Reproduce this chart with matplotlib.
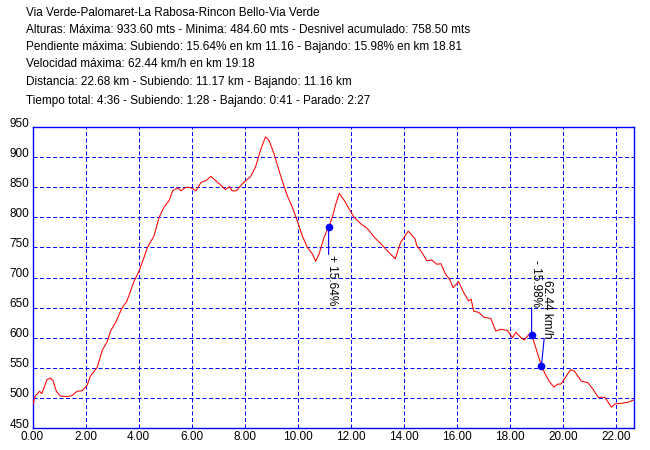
import matplotlib
matplotlib.use("Agg")
import matplotlib.pyplot as plt
import matplotlib.transforms as mtransforms
import numpy as np

plt.rcParams['font.family'] = ['Liberation Sans', 'DejaVu Sans']

# ---------------- data ----------------
header_lines = [
    "Via Verde-Palomaret-La Rabosa-Rincon Bello-Via Verde",
    "Alturas: Máxima: 933.60 mts - Minima: 484.60 mts - Desnivel acumulado: 758.50 mts",
    "Pendiente máxima: Subiendo: 15.64% en km 11.16 - Bajando: 15.98% en km 18.81",
    "Velocidad máxima: 62.44 km/h en km 19.18",
    "Distancia: 22.68 km - Subiendo: 11.17 km - Bajando: 11.16 km",
    "Tiempo total: 4:36 - Subiendo: 1:28 - Bajando: 0:41 - Parado: 2:27",
]

km = [0.00, 0.10, 0.27, 0.35, 0.54, 0.67, 0.77, 0.90, 1.05, 1.30, 1.49, 1.68,
      1.87, 2.06, 2.18, 2.44, 2.63, 2.82, 2.94, 3.13, 3.38, 3.55, 3.83, 4.02,
      4.20, 4.33, 4.58, 4.77, 4.96, 5.15, 5.28, 5.47, 5.60, 5.78, 5.97, 6.16,
      6.35, 6.54, 6.72, 6.90, 7.08, 7.27, 7.43, 7.52, 7.68, 7.96, 8.21, 8.40,
      8.59, 8.78, 8.91, 9.10, 9.35, 9.60, 9.79, 9.98, 10.17, 10.36, 10.55,
      10.67, 10.80, 10.99, 11.18, 11.30, 11.43, 11.56, 11.75, 11.93, 12.12,
      12.38, 12.63, 12.88, 13.13, 13.38, 13.67, 13.87, 14.16, 14.42, 14.48,
      14.67, 14.86, 15.05, 15.24, 15.39, 15.56, 15.72, 15.85, 16.06, 16.25,
      16.44, 16.53, 16.63, 16.82, 17.01, 17.27, 17.46, 17.65, 17.90, 18.09,
      18.22, 18.41, 18.53, 18.72, 18.82, 18.97, 19.08, 19.20, 19.33, 19.48,
      19.65, 19.80, 19.92, 20.11, 20.28, 20.43, 20.68, 20.94, 21.13, 21.32,
      21.57, 21.82, 21.95, 22.20, 22.46, 22.68]
alt = [487, 503, 511, 507, 530, 533, 529, 511, 503, 502, 504, 511,
       512, 521, 536, 551, 579, 594, 611, 625, 650, 660, 694, 711,
       733, 750, 769, 800, 817, 828, 844, 849, 844, 850, 849, 844,
       858, 861, 868, 861, 854, 846, 851, 844, 844, 858, 867, 883,
       911, 933.6, 928, 906, 869, 836, 817, 794, 769, 750, 739,
       727, 739, 767, 786, 800, 822, 840, 828, 814, 800,
       789, 781, 767, 756, 744, 731, 758, 777, 764, 753,
       742, 728, 729, 722, 723, 706, 697, 683, 693, 675,
       661, 664, 644, 642, 634, 632, 611, 614, 612, 600,
       609, 600, 596, 606, 604, 583, 567, 551, 539, 527,
       518, 523, 523, 536, 547, 544, 528, 525, 514, 501,
       501, 484.6, 490, 491, 493, 497]

x_ticks = [0, 2, 4, 6, 8, 10, 12, 14, 16, 18, 20, 22]
y_ticks = [450, 500, 550, 600, 650, 700, 750, 800, 850, 900, 950]

# annotations: (km, label)
ann_km = [11.16, 18.81, 19.18]
ann_labels = ["+ 15.64%", "- 15.98%", "62.44 km/h"]

# ---------------- figure ----------------
W, H = 650, 450
fig = plt.figure(figsize=(6.5, 4.5), dpi=100)
fig.patch.set_facecolor('white')

baselines = [16, 32.7, 50, 66.7, 85.3, 103.7]
for txt, yb in zip(header_lines, baselines):
    fig.text(26 / W, 1 - yb / H, txt, fontsize=8.5, va='baseline', ha='left',
             color='black')

ax = fig.add_axes([32.5 / W, 1 - 428 / H, (634.3 - 32.5) / W, (428 - 127) / H])
ax.set_xlim(0, 22.68)
ax.set_ylim(450, 950)

blue = (0, 0, 1)
for s in ax.spines.values():
    s.set_color(blue)
    s.set_linewidth(1.0)

ax.set_xticks(x_ticks)
ax.set_xticklabels([f"{v:.2f}" for v in x_ticks])
ax.set_yticks(y_ticks)
ax.set_yticklabels([str(v) for v in y_ticks])
ax.tick_params(axis='both', length=0, labelsize=8.5, colors='black')
ax.tick_params(axis='x', pad=2)
ax.tick_params(axis='y', pad=2)

# shift y labels up slightly like the reference
off = mtransforms.ScaledTranslation(0, 5 / 100, fig.dpi_scale_trans)
for lab in ax.get_yticklabels():
    lab.set_transform(lab.get_transform() + off)

for v in x_ticks[1:]:
    ax.axvline(v, color=blue, lw=0.72, ls=(0, (4, 2.5)), zorder=1)
for v in y_ticks[1:-1]:
    ax.axhline(v, color=blue, lw=0.72, ls=(0, (4, 2.5)), zorder=1)

ax.plot(km, alt, color='red', lw=0.75, zorder=3)

px = 0.72  # points per pixel at 100 dpi
ann_alt = [float(np.interp(k, km, alt)) for k in ann_km]
# (line end dx, dy) in px, text anchor (dx, dy) px, va
specs = [((0, -27.5), (3.5, -28), 'top'),
         ((0, 27.5), (4, 28), 'bottom'),
         ((2.7, 26.7), (6, 27), 'bottom')]
for k, a, lab, (le, tp, va) in zip(ann_km, ann_alt, ann_labels, specs):
    ax.plot([k], [a], 'o', color=blue, ms=4.5, mec=blue, zorder=5)
    ax.annotate('', xy=(k, a), xytext=(le[0] * px, le[1] * px),
                textcoords='offset points',
                arrowprops=dict(arrowstyle='-', color=blue, lw=0.8,
                                shrinkA=0, shrinkB=0), zorder=4)
    ax.annotate(lab, xy=(k, a), xytext=(tp[0] * px, tp[1] * px),
                textcoords='offset points', rotation=-90, ha='center', va=va,
                fontsize=8.5, color='black', zorder=6)

fig.savefig('out.png', dpi=100, facecolor='white')
